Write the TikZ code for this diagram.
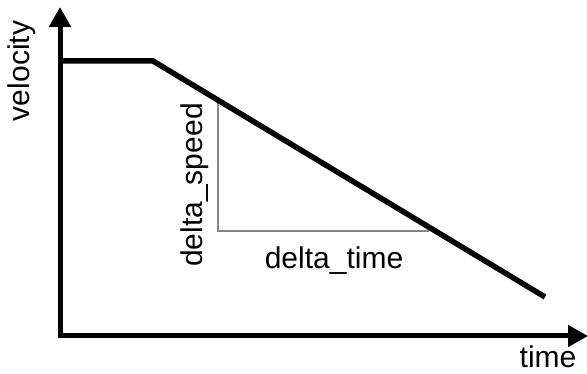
\documentclass[tikz,border=0pt]{standalone}
\usepackage{fontspec}
\setmainfont{Liberation Sans}
\usetikzlibrary{arrows.meta}
\begin{document}
\begin{tikzpicture}[x=1pt,y=-1pt,
  axis/.style={line width=5pt,line join=miter,-{Triangle[length=20pt,width=21pt]}},
  curve/.style={line width=5.5pt,line join=miter},
  helper/.style={line width=2pt,draw=black!48},
  lbl/.style={inner sep=0pt,font=\fontsize{30}{35}\selectfont}]
\useasboundingbox (0,0) rectangle (587,374);
\coordinate (O) at (60,336);
\coordinate (ytip) at (60,7);
\coordinate (xtip) at (588,336);
\coordinate (v0) at (60,61);
\coordinate (v1) at (153,61);
\coordinate (v2) at (545,297);
\coordinate (ta) at (218,100);
\coordinate (tb) at (218,231);
\coordinate (tc) at (429,231);
\draw[helper] (ta) -- (tb) -- (tc);
\draw[axis] (O) -- (ytip);
\draw[axis] ([xshift=-2.5pt]O) -- (xtip);
\draw[curve] (v0) -- (v1) -- (v2);
\node[lbl,rotate=90] (vel) at (22,71) {velocity};
\node[lbl,rotate=90] (ds) at (195,185) {delta\_speed};
\node[lbl] (dt) at (334,261) {delta\_time};
\node[lbl] (tm) at (548,357) {time};
\end{tikzpicture}
\end{document}
